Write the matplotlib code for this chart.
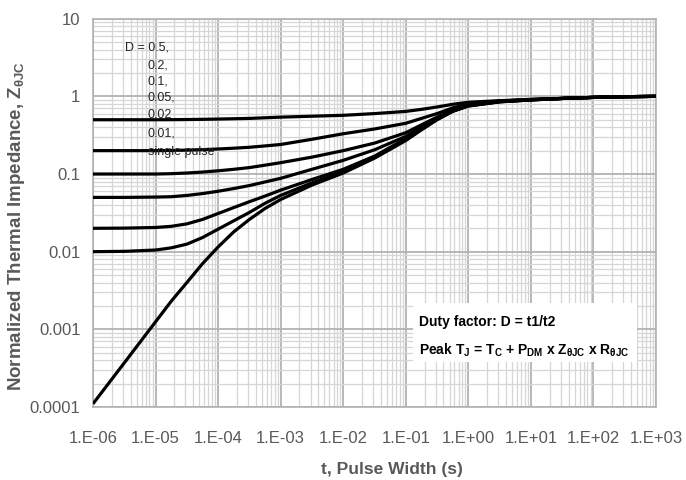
import numpy as np
import matplotlib
matplotlib.use("Agg")
import matplotlib.pyplot as plt
from matplotlib.ticker import FixedLocator, LogLocator, NullFormatter

plt.rcParams['font.family'] = ['Liberation Sans', 'DejaVu Sans']
plt.rcParams['mathtext.fontset'] = 'custom'
plt.rcParams['mathtext.rm'] = 'Liberation Sans'
plt.rcParams['mathtext.bf'] = 'Liberation Sans:bold'

# pulse width exponents (log10 of seconds), finer steps around the bends
t_exp = [-6, -5.5, -5, -4.75, -4.5, -4.25, -4, -3.75, -3.5, -3.25, -3, -2.5, -2, -1.5,
         -1, -0.75, -0.5, -0.25, 0, 0.5, 1, 1.5, 2, 2.5, 3]
t_pulse = [10.0 ** e for e in t_exp]

# normalized thermal impedance
z_d05 = [0.50, 0.50, 0.50, 0.501, 0.503, 0.506, 0.51, 0.515, 0.52, 0.53, 0.54, 0.555, 0.57,
         0.60, 0.64, 0.68, 0.73, 0.79, 0.84, 0.88, 0.915, 0.94, 0.97, 0.99, 1.0]
z_d02 = [0.20, 0.20, 0.20, 0.201, 0.203, 0.206, 0.21, 0.215, 0.221, 0.23, 0.24, 0.28, 0.33,
         0.38, 0.45, 0.52, 0.60, 0.71, 0.80, 0.87, 0.91, 0.94, 0.97, 0.99, 1.0]
z_d01 = [0.10, 0.10, 0.10, 0.101, 0.103, 0.106, 0.11, 0.115, 0.121, 0.13, 0.14, 0.165, 0.20,
         0.25, 0.34, 0.43, 0.54, 0.67, 0.78, 0.865, 0.91, 0.94, 0.97, 0.99, 1.0]
z_d005 = [0.050, 0.050, 0.0505, 0.051, 0.053, 0.056, 0.060, 0.065, 0.071, 0.079, 0.088, 0.115,
          0.15, 0.205, 0.305, 0.40, 0.52, 0.66, 0.77, 0.86, 0.905, 0.94, 0.97, 0.99, 1.0]
z_d002 = [0.020, 0.0201, 0.0205, 0.0212, 0.0228, 0.026, 0.031, 0.037, 0.044, 0.052, 0.062,
          0.085, 0.115, 0.17, 0.285, 0.385, 0.51, 0.65, 0.76, 0.855, 0.90, 0.94, 0.97, 0.99, 1.0]
z_d001 = [0.010, 0.0101, 0.0105, 0.0112, 0.0125, 0.0152, 0.0195, 0.025, 0.032, 0.042, 0.053,
          0.077, 0.107, 0.163, 0.275, 0.375, 0.505, 0.645, 0.755, 0.85, 0.90, 0.94, 0.97, 0.99, 1.0]
z_single = [1.1e-4, 3.7e-4, 1.25e-3, 2.3e-3, 4.0e-3, 7.0e-3, 0.0115, 0.018, 0.026, 0.036, 0.047,
            0.072, 0.103, 0.16, 0.27, 0.37, 0.50, 0.64, 0.75, 0.85, 0.90, 0.94, 0.97, 0.99, 1.0]

curves = [z_d05, z_d02, z_d01, z_d005, z_d002, z_d001, z_single]

x_ticks = [1e-6, 1e-5, 1e-4, 1e-3, 1e-2, 1e-1, 1e0, 1e1, 1e2, 1e3]
x_tick_labels = ['1.E-06', '1.E-05', '1.E-04', '1.E-03', '1.E-02', '1.E-01',
                 '1.E+00', '1.E+01', '1.E+02', '1.E+03']
y_ticks = [1e-4, 1e-3, 1e-2, 1e-1, 1e0, 1e1]
y_tick_labels = ['0.0001', '0.001', '0.01', '0.1', '1', '10']

legend_lines = ['D = 0.5,', '0.2,', '0.1,', '0.05,', '0.02', '0.01,', 'single pulse']

fig = plt.figure(figsize=(6.86, 4.8), dpi=100)
ax = fig.add_axes([93 / 686, 1 - 407 / 480, 563 / 686, 388.3 / 480])

for z in curves:
    ax.plot(t_pulse, z, color='black', linewidth=2.3, solid_capstyle='butt',
            solid_joinstyle='round', zorder=3)

ax.set_xscale('log')
ax.set_yscale('log')
ax.set_xlim(1e-6, 1e3)
ax.set_ylim(1e-4, 10)

ax.xaxis.set_major_locator(FixedLocator(x_ticks))
ax.set_xticklabels(x_tick_labels)
ax.yaxis.set_major_locator(FixedLocator(y_ticks))
ax.set_yticklabels(y_tick_labels)
ax.xaxis.set_minor_locator(LogLocator(base=10, subs=np.arange(2, 10), numticks=30))
ax.yaxis.set_minor_locator(LogLocator(base=10, subs=np.arange(2, 10), numticks=30))
ax.xaxis.set_minor_formatter(NullFormatter())
ax.yaxis.set_minor_formatter(NullFormatter())

ax.tick_params(which='both', length=0)
ax.tick_params(axis='x', pad=17, labelsize=12, labelcolor='#595959')
ax.tick_params(axis='y', pad=9, labelsize=12, labelcolor='#595959')

ax.grid(which='major', color='#b2b2b2', linewidth=1.3, zorder=0)
ax.grid(which='minor', color='#d6d6d6', linewidth=0.9, zorder=0)
ax.set_axisbelow(True)
for s in ax.spines.values():
    s.set_color('#b2b2b2')
    s.set_linewidth(1.2)

ax.set_xlabel('t, Pulse Width (s)', fontsize=12.5, fontweight='bold', color='#595959')
ax.xaxis.set_label_coords(0.531, -0.142)
ax.set_ylabel(r'Normalized Thermal Impedance, Z$_{\mathbf{θJC}}$', fontsize=13.5,
              fontweight='bold', color='#595959')
ax.yaxis.set_label_coords(-0.117, 0.466)

# legend text block (figure pixel positions)
legend_y = [48, 65, 81, 97, 115, 133, 152]
for i, (txt, yp) in enumerate(zip(legend_lines, legend_y)):
    xp = 125 if i == 0 else 148
    fig.text(xp / 686, 1 - yp / 480, txt, fontsize=9, color='#262626',
             ha='left', va='center', zorder=2)

# annotation box
box_l, box_t, box_r, box_b = 413, 303, 637, 362
fig.patches.append(plt.Rectangle((box_l / 686, 1 - box_b / 480),
                                 (box_r - box_l) / 686, (box_b - box_t) / 480,
                                 transform=fig.transFigure, facecolor='white',
                                 edgecolor='none', zorder=5))
fig.text(419 / 686, 1 - 322 / 480, 'Duty factor: D = t1/t2', fontsize=10,
         fontweight='bold', color='black', ha='left', va='center', zorder=6)
fig.text(419 / 686, 1 - 350 / 480,
         r'Peak T$_{\mathbf{J}}$ = T$_{\mathbf{C}}$ + P$_{\mathbf{DM}}$ x Z$_{\mathbf{θJC}}$ x R$_{\mathbf{θJC}}$',
         fontsize=10, fontweight='bold', color='black', ha='left', va='center', zorder=6)

fig.savefig('out.png', dpi=100)
